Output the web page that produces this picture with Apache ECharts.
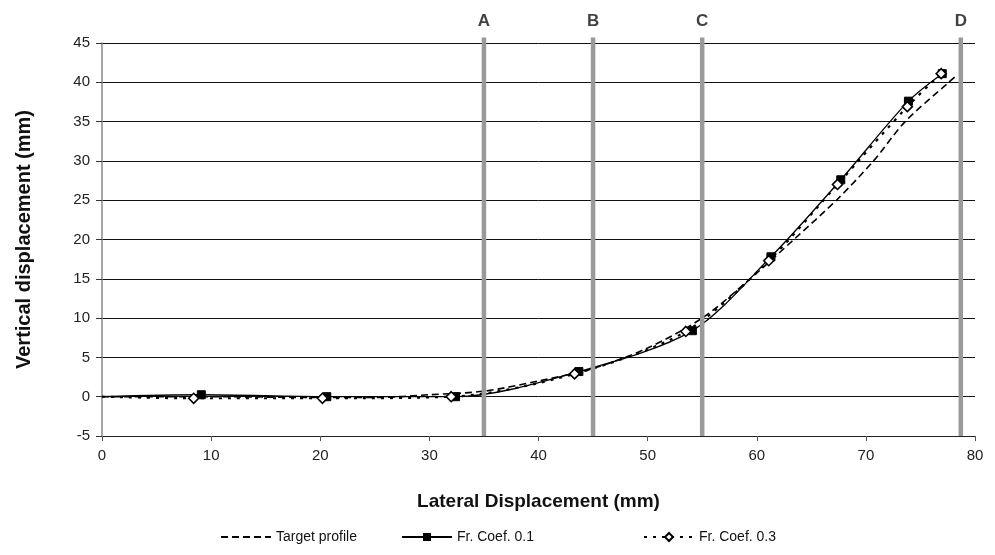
<!DOCTYPE html>
<html>
<head>
<meta charset="utf-8">
<script src="https://cdn.jsdelivr.net/npm/echarts@6/dist/echarts.min.js"></script>
<style>html,body{margin:0;padding:0;background:#fff;}#c{width:995px;height:555px;}</style>
</head>
<body>
<div id="c"></div>
<script>
// ---- data ----
var targetX = [0, 10, 20, 25, 30, 35, 40, 45, 50, 55, 59.4, 63.4, 67.3, 70.7, 73.6, 77.6, 78.4];
var targetY = [0, 0, -0.1, -0.1, 0.25, 0.7, 2.0, 3.6, 6.2, 10, 15, 20, 25, 30, 35, 40, 41];
var coef01X = [0, 9.1, 20.6, 32.4, 43.7, 54.1, 61.3, 67.7, 73.9, 77.0];
var coef01Y = [0, 0.25, 0, 0, 3.2, 8.4, 17.8, 27.6, 37.6, 41.1];
var coef03X = [0, 8.4, 20.2, 32.0, 43.3, 53.5, 61.1, 67.4, 73.8, 76.9];
var coef03Y = [0, -0.2, -0.2, 0, 2.9, 8.3, 17.3, 27.0, 36.9, 41.1];
var sectionX = [35, 45, 55, 78.7];
var sectionLabels = ['A', 'B', 'C', 'D'];
var seriesNames = ['Target profile', 'Fr. Coef. 0.1', 'Fr. Coef. 0.3'];
var xTicks = [0, 10, 20, 30, 40, 50, 60, 70, 80];
var yTicks = [-5, 0, 5, 10, 15, 20, 25, 30, 35, 40, 45];

function pairs(xs, ys, hideFirst) {
  return xs.map(function (x, i) {
    var item = { value: [x, ys[i]] };
    if (hideFirst && i === 0) item.symbol = 'none';
    return item;
  });
}

var normal = "'Liberation Sans', Arial, Helvetica, sans-serif";

var series = [
  {
    name: seriesNames[0], type: 'line', smooth: 0.3, showSymbol: false, symbol: 'circle', symbolSize: 0,
    data: pairs(targetX, targetY, false),
    lineStyle: { color: '#000', width: 1.6, type: [7, 4] }, itemStyle: { color: '#000' }, z: 4
  },
  {
    name: seriesNames[1], type: 'line', smooth: 0.3, symbol: 'rect', symbolSize: 8,
    data: pairs(coef01X, coef01Y, true),
    lineStyle: { color: '#000', width: 1.3 }, itemStyle: { color: '#000', borderColor: '#000' }, z: 5
  },
  {
    name: seriesNames[2], type: 'line', smooth: 0.3, symbol: 'diamond', symbolSize: 10,
    data: pairs(coef03X, coef03Y, true),
    lineStyle: { color: '#000', width: 2.2, type: [3, 6] },
    itemStyle: { color: '#fff', borderColor: '#000', borderWidth: 1.6 }, z: 6
  }
];

sectionX.forEach(function (x, i) {
  series.push({
    name: 'section' + sectionLabels[i], type: 'line', clip: false, symbol: 'none', silent: true,
    data: [[x, -5], [x, 45.7]],
    lineStyle: { color: '#9a9a9a', width: 4.5 }, z: 7
  });
});
series.push({
  name: 'sectionLabels', type: 'scatter', clip: false, symbolSize: 0, silent: true,
  data: sectionX.map(function (x, i) { return { value: [x, 45.7], name: sectionLabels[i] }; }),
  label: { show: true, position: 'top', distance: 8, formatter: '{b}',
           fontFamily: normal, fontWeight: 'bold', fontSize: 17, color: '#111' },
  z: 8
});

var legendBase = {
  orient: 'horizontal', bottom: 6, itemWidth: 50, itemHeight: 10, itemGap: 4,
  textStyle: { fontFamily: normal, fontSize: 14, color: '#111' }, selectedMode: false
};
var legends = [215, 396, 638].map(function (left, i) {
  var item = { name: seriesNames[i] };
  if (i === 0) item.itemStyle = { opacity: 0 };
  return Object.assign({}, legendBase, { left: left, data: [item] });
});

var chart = echarts.init(document.getElementById('c'), null, { renderer: 'canvas' });
chart.setOption({
  animation: false,
  backgroundColor: '#fff',
  grid: { left: 102, right: 20, top: 43, bottom: 119, containLabel: false },
  legend: legends,
  xAxis: {
    type: 'value', min: xTicks[0], max: xTicks[xTicks.length - 1], interval: 10,
    name: 'Lateral Displacement (mm)', nameLocation: 'middle', nameGap: 56,
    nameTextStyle: { fontFamily: normal, fontWeight: 'bold', fontSize: 19, color: '#111' },
    axisLine: { onZero: false, lineStyle: { color: '#222', width: 1 } },
    axisTick: { show: true, length: 5, lineStyle: { color: '#555' } },
    axisLabel: { fontFamily: normal, fontSize: 15, color: '#222', margin: 12 },
    splitLine: { show: false }
  },
  yAxis: {
    type: 'value', min: yTicks[0], max: yTicks[yTicks.length - 1], interval: 5,
    name: 'Vertical displacement (mm)', nameLocation: 'middle', nameGap: 68,
    nameTextStyle: { fontFamily: normal, fontWeight: 'bold', fontSize: 20, color: '#111' },
    axisLine: { show: true, onZero: false, lineStyle: { color: '#888', width: 1.5 } },
    axisTick: { show: true, length: 6, lineStyle: { color: '#333' } },
    axisLabel: { fontFamily: normal, fontSize: 15, color: '#222', margin: 12 },
    splitLine: { show: true, lineStyle: { color: '#111', width: 1 } }
  },
  series: series
});
</script>
</body>
</html>
